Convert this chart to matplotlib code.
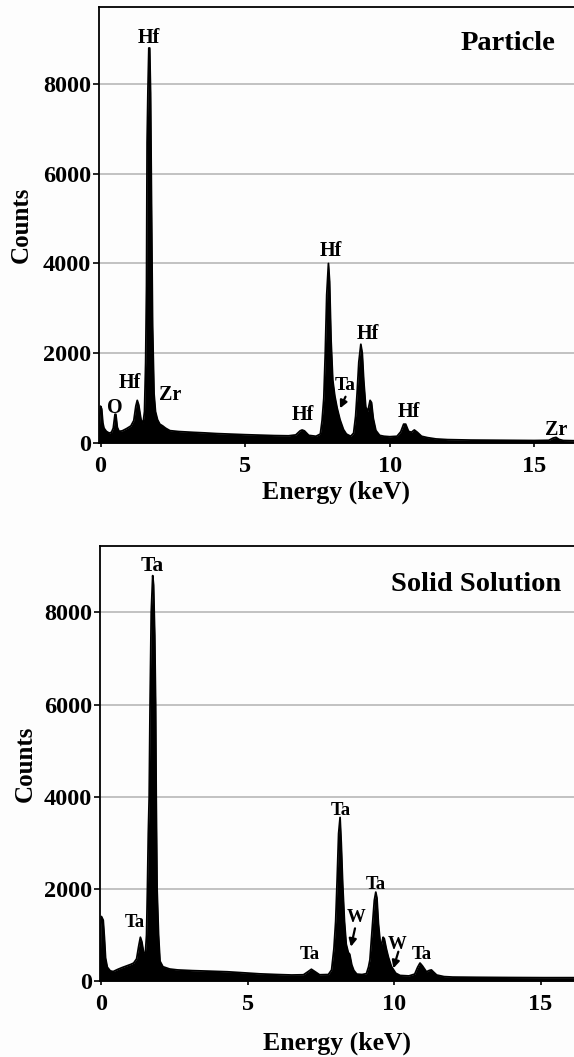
import matplotlib
matplotlib.use("Agg")
import matplotlib.pyplot as plt

# ---------------- data ----------------
particle_energy = [-0.06, -0.03, 0.0, 0.04, 0.08, 0.12, 0.2, 0.3, 0.38, 0.44, 0.5, 0.53,
                   0.58, 0.64, 0.75, 0.9, 1.05, 1.15, 1.22, 1.27, 1.32, 1.4, 1.47, 1.52,
                   1.56, 1.59, 1.61, 1.64, 1.67, 1.70, 1.73, 1.76, 1.80, 1.85, 1.90, 1.97,
                   2.05, 2.15, 2.25, 2.4, 2.7, 3.2, 3.6, 4.0, 4.4, 5.0, 5.5, 6.0, 6.5,
                   6.75, 6.9, 6.97, 7.05, 7.2, 7.45, 7.6, 7.66, 7.72, 7.77, 7.82, 7.88,
                   7.92, 7.97, 8.03, 8.1, 8.18, 8.28, 8.4, 8.5, 8.65, 8.75, 8.82, 8.87,
                   8.93, 9.0, 9.05, 9.1, 9.17, 9.24, 9.32, 9.37, 9.43, 9.52, 9.65, 9.8,
                   10.0, 10.25, 10.38, 10.48, 10.55, 10.65, 10.75, 10.85, 10.95, 11.1,
                   11.3, 11.6, 12.0, 12.8, 13.9, 15.0, 15.5, 15.65, 15.75, 15.85, 16.0, 16.4]
particle_counts = [0, 500, 820, 760, 450, 330, 260, 220, 240, 330, 640, 640,
                   350, 260, 270, 320, 380, 500, 820, 950, 850, 520, 430, 700,
                   1800, 3500, 6700, 7900, 8800, 8800, 7800, 5500, 2600, 1100, 700, 520,
                   420, 380, 330, 275, 255, 237, 225, 210, 200, 185, 175, 165, 160,
                   180, 270, 290, 270, 170, 150, 200, 500, 1000, 2000, 3300, 4000,
                   3600, 2300, 1400, 1050, 780, 520, 300, 200, 150, 220, 600, 1100,
                   1800, 2200, 2000, 1400, 800, 700, 950, 900, 550, 280, 170, 150,
                   140, 150, 250, 420, 420, 260, 240, 290, 240, 150,
                   120, 90, 75, 65, 60, 55, 60, 110, 125, 80, 55, 50]

solid_energy = [-0.05, -0.02, 0.0, 0.06, 0.1, 0.14, 0.2, 0.3, 0.4, 0.55, 0.7, 0.85, 1.0,
                1.1, 1.2, 1.27, 1.33, 1.38, 1.44, 1.5, 1.54, 1.57, 1.6, 1.63, 1.66, 1.70,
                1.75, 1.78, 1.82, 1.85, 1.87, 1.90, 1.95, 2.0, 2.1, 2.33, 2.6, 3.1, 3.6,
                4.3, 4.8, 5.4, 6.0, 6.5, 6.9, 7.05, 7.17, 7.3, 7.45, 7.75, 7.86, 7.94,
                8.0, 8.05, 8.1, 8.15, 8.19, 8.24, 8.3, 8.36, 8.43, 8.48, 8.55, 8.62,
                8.72, 8.9, 9.05, 9.12, 9.17, 9.26, 9.32, 9.37, 9.41, 9.46, 9.52, 9.56,
                9.62, 9.66, 9.73, 9.8, 9.9, 10.05, 10.2, 10.5, 10.7, 10.8, 10.88, 10.96,
                11.1, 11.2, 11.27, 11.35, 11.45, 11.7, 12.0, 12.8, 14.0, 15.1, 16.2]
solid_counts = [0, 1200, 1400, 1320, 950, 500, 300, 220, 205, 250, 290, 325, 360,
                390, 480, 750, 950, 850, 620, 600, 1000, 2000, 3200, 4000, 6000, 8000,
                8800, 8600, 7500, 6000, 4000, 2000, 1000, 430, 310, 260, 240, 225, 215,
                200, 180, 155, 140, 130, 135, 200, 255, 200, 135, 140, 240, 700,
                1300, 2200, 3200, 3550, 3000, 2100, 1300, 800, 620, 580, 350, 230,
                150, 140, 160, 300, 460, 1250, 1750, 1930, 1800, 1250, 850, 780,
                950, 920, 700, 520, 320, 170, 120, 110, 150, 300, 390, 330,
                200, 230, 240, 190, 130, 95, 85, 80, 75, 72, 72]

y_ticks = [0, 2000, 4000, 6000, 8000]
x_ticks = [0, 5, 10, 15]

# peak labels: (text, energy, counts-baseline, fontsize)
particle_labels = [("Hf", 1.66, 8902, 14.5), ("O", 0.48, 661, 14.5), ("Hf", 1.0, 1218, 14.5),
                   ("Zr", 2.41, 958, 14.5), ("Hf", 6.98, 512, 14.5), ("Hf", 7.98, 4165, 14.5),
                   ("Ta", 8.47, 1180, 14), ("Hf", 9.24, 2310, 14.5), ("Hf", 10.65, 586, 14.5),
                   ("Zr", 15.74, 178, 14.5)]
particle_arrows = [((8.47, 1031), (8.28, 773))]

solid_labels = [("Ta", 1.72, 8900, 15.5), ("Ta", 1.14, 1176, 13.5), ("Ta", 7.12, 469, 13.5),
                ("Ta", 8.18, 3597, 13.5), ("W", 8.71, 1271, 13.5), ("Ta", 9.36, 1991, 13.5),
                ("W", 10.1, 698, 13.5), ("Ta", 10.95, 469, 13.5)]
solid_arrows = [((8.66, 1143), (8.52, 744)), ((10.14, 636), (9.97, 275))]

# ---------------- style ----------------
SERIF = ["Liberation Serif", "DejaVu Serif"]
plt.rcParams["font.family"] = SERIF
plt.rcParams["font.weight"] = "bold"

W, H = 574, 1057
fig = plt.figure(figsize=(W / 100, H / 100), dpi=100, facecolor="#fdfdfd")

ax1 = fig.add_axes([98.8 / W, 1 - 443 / H, 1 - 98.8 / W, (443 - 6.7) / H])
ax2 = fig.add_axes([100 / W, 1 - 981 / H, 1 - 100 / W, (981 - 545.7) / H])


def style(ax, energy, counts, xlim, ylim, labels, arrows, title, title_pos,
          xlab_y, ylab_x):
    ax.set_facecolor("#fdfdfd")
    ax.fill_between(energy, counts, 0, color="black", lw=0)
    ax.plot(energy, counts, color="black", lw=1.3)
    ax.set_xlim(*xlim)
    ax.set_ylim(*ylim)
    ax.set_yticks(y_ticks)
    ax.set_xticks(x_ticks)
    ax.set_yticklabels([str(v) for v in y_ticks])
    ax.set_xticklabels([str(v) for v in x_ticks])
    ax.set_axisbelow(True)
    ax.yaxis.grid(True, color="#b8b8b8", lw=1.2)
    ax.xaxis.grid(False)
    for s in ("left", "top", "bottom"):
        ax.spines[s].set_color("black")
        ax.spines[s].set_linewidth(1.3)
    ax.spines["right"].set_visible(False)
    ax.tick_params(axis="y", direction="out", length=4, width=1.2, pad=1.5,
                   labelsize=17.5)
    ax.tick_params(axis="x", direction="out", length=3, width=1.2, pad=6,
                   labelsize=17.5)
    for lab in ax.get_xticklabels() + ax.get_yticklabels():
        lab.set_fontweight("bold")
    ax.set_xlabel("Energy (keV)", fontsize=18.5, fontweight="bold")
    ax.set_ylabel("Counts", fontsize=18, fontweight="bold")
    ax.xaxis.set_label_coords(0.5, xlab_y)
    ax.yaxis.set_label_coords(ylab_x, 0.5)
    for txt, e, c, fs in labels:
        ax.text(e, c, txt, ha="center", va="baseline", fontsize=fs,
                fontweight="bold")
    for (x0, y0), (x1, y1) in arrows:
        ax.annotate("", xy=(x1, y1), xytext=(x0, y0),
                    arrowprops=dict(arrowstyle="-|>", color="black", lw=1.6,
                                    mutation_scale=11, shrinkA=0, shrinkB=0))
    ax.text(title_pos[0], title_pos[1], title, ha="center", va="baseline",
            fontsize=20.5, fontweight="bold")


style(ax1, particle_energy, particle_counts, (-0.06, 16.37), (0, 9720),
      particle_labels, particle_arrows, "Particle", (14.09, 8753), -0.0855, -0.138)
style(ax2, solid_energy, solid_counts, (-0.05, 16.14), (0, 9450),
      solid_labels, solid_arrows, "Solid Solution", (12.81, 8477), -0.1153, -0.134)

fig.savefig("out.png", dpi=100, facecolor=fig.get_facecolor())
